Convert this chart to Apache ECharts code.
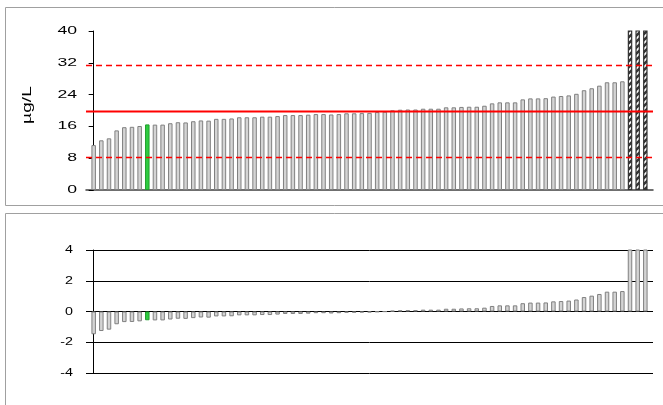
<!DOCTYPE html>
<html>
<head>
<meta charset="utf-8">
<script src="https://cdn.jsdelivr.net/npm/echarts@6/dist/echarts.min.js"></script>
<style>
html,body{margin:0;padding:0;background:#fff;}
#chart{width:663px;height:405px;}
</style>
</head>
<body>
<div id="chart"></div>
<script>
// Measured concentrations (µg/L), sorted ascending; last three exceed the axis
const topValues = [
  11.3, 12.5, 13.0, 15.0, 15.8, 15.9, 16.1, 16.5, 16.45, 16.45,
  16.8, 17.05, 17.0, 17.3, 17.5, 17.45, 17.9, 17.9, 18.0, 18.3,
  18.3, 18.3, 18.45, 18.45, 18.6, 18.85, 18.85, 18.85, 18.95, 19.1,
  19.1, 19.0, 19.1, 19.3, 19.3, 19.35, 19.4, 19.6, 19.7, 20.05,
  20.2, 20.25, 20.25, 20.45, 20.45, 20.45, 20.8, 20.8, 20.9, 20.95,
  20.95, 21.2, 21.8, 22.05, 22.05, 22.05, 22.8, 23.05, 23.05, 23.1,
  23.5, 23.65, 23.8, 24.2, 25.1, 25.6, 26.25, 27.1, 27.1, 27.35,
  46, 50, 58
];
// Deviation scores, same order
const devValues = [
  -1.48, -1.27, -1.18, -0.83, -0.69, -0.68, -0.64, -0.57, -0.58, -0.58,
  -0.52, -0.47, -0.48, -0.43, -0.39, -0.40, -0.32, -0.32, -0.31, -0.25,
  -0.25, -0.25, -0.23, -0.23, -0.20, -0.16, -0.16, -0.16, -0.14, -0.11,
  -0.11, -0.13, -0.11, -0.08, -0.08, -0.07, -0.06, -0.03, -0.01, 0.05,
  0.08, 0.09, 0.09, 0.12, 0.12, 0.12, 0.18, 0.18, 0.20, 0.21,
  0.21, 0.25, 0.36, 0.40, 0.40, 0.40, 0.54, 0.58, 0.58, 0.59,
  0.66, 0.68, 0.71, 0.78, 0.94, 1.03, 1.14, 1.29, 1.29, 1.33,
  4.6, 5.3, 6.7
];
const highlightIndex = 7;
const outlierFrom = 70;
const assignedValue = 19.75;
const upperLimit = 31.3;
const lowerLimit = 8.2;
const topTicks = [0, 8, 16, 24, 32, 40];
const bottomTicks = [-4, -2, 0, 2, 4];
const unitLabel = 'µg/L';

// hatch pattern for off-scale bars
const pc = document.createElement('canvas');
pc.width = 6; pc.height = 6;
const g = pc.getContext('2d');
g.fillStyle = '#fff'; g.fillRect(0, 0, 6, 6);
g.strokeStyle = '#333'; g.lineWidth = 2.4;
g.beginPath();
g.moveTo(-1, 7); g.lineTo(7, -1);
g.moveTo(-4, 4); g.lineTo(4, -4);
g.moveTo(2, 10); g.lineTo(10, 2);
g.stroke();

const normalStyle = {color: '#d4d4d4', borderColor: '#808080', borderWidth: 1};
const greenStyle = {color: '#2ecc40', borderColor: '#1f9e2c', borderWidth: 1};
const hatchStyle = {color: {image: pc, repeat: 'repeat'}, borderColor: '#333', borderWidth: 1.2};

const topData = topValues.map((v, i) => ({
  value: [i, v],
  itemStyle: i === highlightIndex ? greenStyle : (i >= outlierFrom ? hatchStyle : normalStyle)
}));
const devData = devValues.map((v, i) => ({
  value: [i, v],
  itemStyle: i === highlightIndex ? greenStyle : normalStyle
}));
const xMin = -1, xMax = topValues.length;
const hLine = (v) => [[xMin, v], [xMax, v]];
const refLine = (v, width, type) => ({
  type: 'line', xAxisIndex: 0, yAxisIndex: 0, data: hLine(v), z: 5,
  symbol: 'none', silent: true, color: '#ff0000',
  lineStyle: {color: '#ff0000', width: width, type: type, opacity: 1}
});

const fontFam = 'Liberation Sans, Arial, sans-serif';
const chart = echarts.init(document.getElementById('chart'));
const boxes = [
  {type: 'rect', shape: {x: 5.5, y: 7.5, width: 700, height: 198}, style: {fill: 'none', stroke: '#a0a0a0', lineWidth: 1}, silent: true},
  {type: 'rect', shape: {x: 5.5, y: 213.5, width: 700, height: 300}, style: {fill: 'none', stroke: '#a0a0a0', lineWidth: 1}, silent: true}
];
chart.setOption({
  animation: false,
  backgroundColor: '#fff',
  graphic: boxes,
  grid: [
    {left: 86, right: 10, top: 31, height: 159},
    {left: 86, right: 10, top: 250, height: 123}
  ],
  xAxis: [
    {gridIndex: 0, type: 'value', min: xMin, max: xMax,
     axisLine: {show: true, lineStyle: {color: '#404040', width: 1.5}},
     axisTick: {show: false}, axisLabel: {show: false}, splitLine: {show: false}},
    {gridIndex: 1, type: 'value', min: xMin, max: xMax, show: false}
  ],
  yAxis: [
    {gridIndex: 0, type: 'value', min: topTicks[0], max: topTicks[topTicks.length - 1], interval: 8,
     axisLine: {show: true, lineStyle: {color: '#000', width: 1}},
     axisTick: {show: true, length: 5, lineStyle: {color: '#000'}},
     axisLabel: {show: false},
     splitLine: {show: false}},
    {gridIndex: 1, type: 'value', min: bottomTicks[0], max: bottomTicks[bottomTicks.length - 1], interval: 2,
     axisLine: {show: true, lineStyle: {color: '#000', width: 1}},
     axisTick: {show: true, length: 5, lineStyle: {color: '#000'}},
     axisLabel: {show: false},
     splitLine: {show: true, lineStyle: {color: '#000', width: 1}}}
  ],
  series: [
    {type: 'bar', xAxisIndex: 0, yAxisIndex: 0, data: topData, barWidth: 4.5, clip: true, z: 2},
    refLine(assignedValue, 2, 'solid'),
    refLine(upperLimit, 1.5, [6, 4]),
    refLine(lowerLimit, 1.5, [6, 4]),
    {type: 'bar', xAxisIndex: 1, yAxisIndex: 1, data: devData, barWidth: 4.5, clip: true}
  ]
});

// Tick labels placed through the axes' own scales (stretched text as in the original)
const labels = [];
topTicks.forEach(v => {
  labels.push({type: 'text', silent: true, x: 77, y: chart.convertToPixel({yAxisIndex: 0}, v), scaleX: 1.6,
    style: {text: String(v), font: '11px ' + fontFam, fill: '#000', align: 'right', verticalAlign: 'middle'}});
});
bottomTicks.forEach(v => {
  labels.push({type: 'text', silent: true, x: 73, y: chart.convertToPixel({yAxisIndex: 1}, v), scaleX: 1.3,
    style: {text: String(v), font: '11px ' + fontFam, fill: '#000', align: 'right', verticalAlign: 'middle'}});
});
labels.push({type: 'text', silent: true, x: 28, y: 105, rotation: Math.PI / 2, scaleX: 1.6,
  style: {text: unitLabel, font: '12px ' + fontFam, fill: '#000', align: 'center', verticalAlign: 'middle'}});
chart.setOption({graphic: boxes.concat(labels)});
</script>
</body>
</html>
